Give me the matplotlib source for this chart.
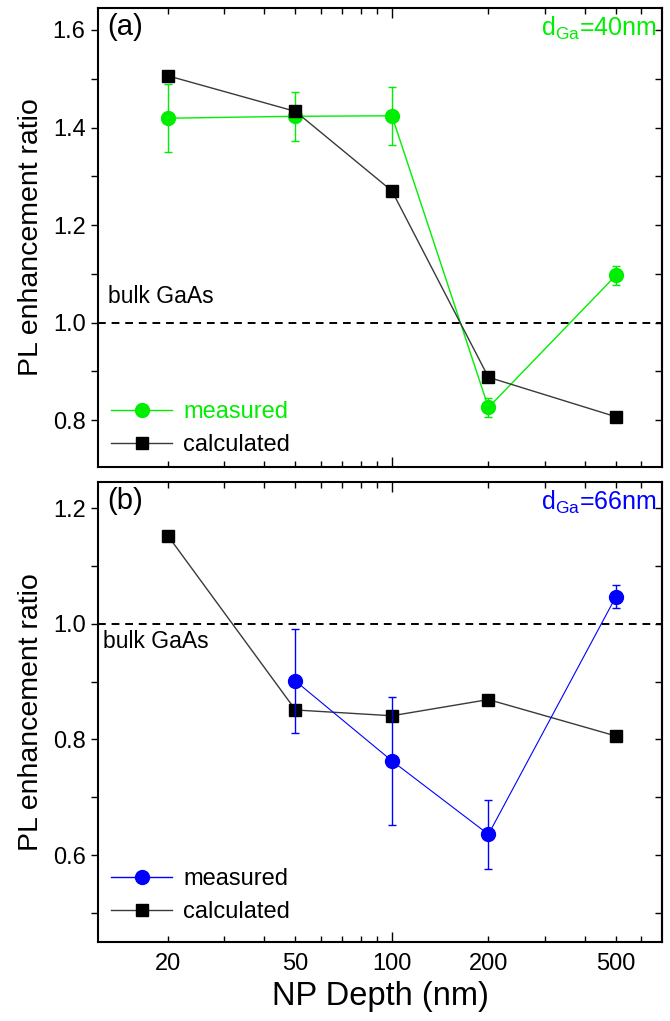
import matplotlib
matplotlib.use("Agg")
import matplotlib.pyplot as plt
from matplotlib.lines import Line2D
from matplotlib.ticker import FixedLocator, FixedFormatter, MultipleLocator, NullFormatter

plt.rcParams['font.family'] = ['Liberation Sans', 'DejaVu Sans']
plt.rcParams['mathtext.fontset'] = 'custom'
plt.rcParams['mathtext.rm'] = 'Liberation Sans'
plt.rcParams['mathtext.it'] = 'Liberation Sans'

depth = [20, 50, 100, 200, 500]

# Panel (a), d_Ga = 40 nm
a_meas = [1.419, 1.423, 1.424, 0.826, 1.097]
a_meas_err = [0.070, 0.050, 0.060, 0.020, 0.019]
a_calc = [1.506, 1.433, 1.270, 0.888, 0.807]

# Panel (b), d_Ga = 66 nm
b_meas_x = [50, 100, 200, 500]
b_meas = [0.901, 0.763, 0.636, 1.047]
b_meas_err = [0.090, 0.110, 0.060, 0.020]
b_calc = [1.152, 0.851, 0.841, 0.869, 0.806]

GREEN = '#00ee00'
BLUE = '#0000ff'
CALC = '#3a3a3a'

TICK_FS = 17
LEG_FS = 17

fig = plt.figure(figsize=(6.70, 10.21), dpi=100)
W, H = 670, 1021
def axrect(l, t, r, b):
    return [l / W, 1 - b / H, (r - l) / W, (b - t) / H]

ax1 = fig.add_axes(axrect(98, 8, 662, 467))
ax2 = fig.add_axes(axrect(98, 482, 662, 942))

def style(ax, ylim, show_xlabels):
    ax.set_xscale('log')
    ax.set_xlim(12.1, 696)
    ax.set_ylim(*ylim)
    ax.xaxis.set_major_locator(FixedLocator([100]))
    minors = [20, 30, 40, 50, 60, 70, 80, 90, 200, 300, 400, 500, 600]
    ax.xaxis.set_minor_locator(FixedLocator(minors))
    if show_xlabels:
        ax.xaxis.set_major_formatter(FixedFormatter(['100']))
        ax.xaxis.set_minor_formatter(FixedFormatter(
            ['20', '', '', '50', '', '', '', '', '200', '', '', '500', '']))
    else:
        ax.xaxis.set_major_formatter(NullFormatter())
        ax.xaxis.set_minor_formatter(NullFormatter())
    ax.yaxis.set_major_locator(MultipleLocator(0.2))
    ax.yaxis.set_minor_locator(MultipleLocator(0.1))
    ax.yaxis.set_major_formatter(matplotlib.ticker.FormatStrFormatter('%.1f'))
    ax.tick_params(axis='x', which='both', direction='in', top=True, bottom=True,
                   labelsize=TICK_FS, pad=8)
    ax.tick_params(axis='x', which='major', length=7, width=1)
    ax.tick_params(axis='x', which='minor', length=4, width=1)
    ax.tick_params(axis='y', which='both', direction='out', left=True, right=False,
                   labelsize=TICK_FS, length=5, width=1, pad=4)
    for s in ax.spines.values():
        s.set_linewidth(1.5)
    sec = ax.secondary_yaxis('right')
    sec.yaxis.set_major_locator(MultipleLocator(0.2))
    sec.yaxis.set_minor_locator(MultipleLocator(0.1))
    sec.tick_params(which='both', direction='in', length=5, width=1, labelright=False)
    sec.spines['right'].set_linewidth(1.5)

style(ax1, (0.704, 1.645), False)
style(ax2, (0.45, 1.245), True)

for ax in (ax1, ax2):
    ax.axhline(1.0, color='black', linestyle=(0, (4, 3)), linewidth=1.4, zorder=1)

# Panel (a)
ax1.errorbar(depth, a_meas, yerr=a_meas_err, color=GREEN, marker='o', markersize=10,
             linewidth=1.0, elinewidth=1.0, capsize=3, capthick=1.0, zorder=3)
ax1.plot(depth, a_calc, color=CALC, marker='s', markersize=9, markerfacecolor='black',
         markeredgecolor='black', linewidth=1.0, zorder=4)

# Panel (b)
ax2.plot(depth, b_calc, color=CALC, marker='s', markersize=9, markerfacecolor='black',
         markeredgecolor='black', linewidth=1.0, zorder=3)
ax2.errorbar(b_meas_x, b_meas, yerr=b_meas_err, color=BLUE, marker='o', markersize=10,
             linewidth=0.8, elinewidth=1.0, capsize=3, capthick=1.0, zorder=4)

ax1.text(0.017, 0.99, '(a)', transform=ax1.transAxes, fontsize=21, va='top', ha='left')
ax2.text(0.017, 0.99, '(b)', transform=ax2.transAxes, fontsize=21, va='top', ha='left')
ax1.text(0.99, 0.985, r'd$_{\mathrm{Ga}}$=40nm', transform=ax1.transAxes, fontsize=18,
         va='top', ha='right', color=GREEN)
ax2.text(0.99, 0.985, r'd$_{\mathrm{Ga}}$=66nm', transform=ax2.transAxes, fontsize=18,
         va='top', ha='right', color=BLUE)

ax1.text(13.0, 1.03, 'bulk GaAs', fontsize=16.5, va='bottom', ha='left')
ax2.text(12.5, 0.99, 'bulk GaAs', fontsize=16.5, va='top', ha='left')

def make_legend(ax, meas_color, text_color, y0):
    hm = Line2D([], [], color=meas_color, marker='o', markersize=10, linewidth=1.0)
    hc = Line2D([], [], color=CALC, marker='s', markersize=9, markerfacecolor='black',
                markeredgecolor='black', linewidth=1.0)
    leg = ax.legend([hm, hc], ['measured', 'calculated'], loc='lower left',
                    bbox_to_anchor=(0.0, y0), frameon=False, fontsize=LEG_FS,
                    handlelength=2.6, handletextpad=0.45,
                    labelspacing=0.47, borderaxespad=0.25, borderpad=0.3)
    leg.get_texts()[0].set_color(text_color)
    return leg

make_legend(ax1, GREEN, GREEN, -0.005)
make_legend(ax2, BLUE, 'black', 0.012)

ax1.set_ylabel('PL enhancement ratio', fontsize=20.5, labelpad=6)
ax2.set_ylabel('PL enhancement ratio', fontsize=20.5, labelpad=6)
ax2.set_xlabel('NP Depth (nm)', fontsize=23.5, labelpad=4)

fig.savefig('out.png', dpi=100)
